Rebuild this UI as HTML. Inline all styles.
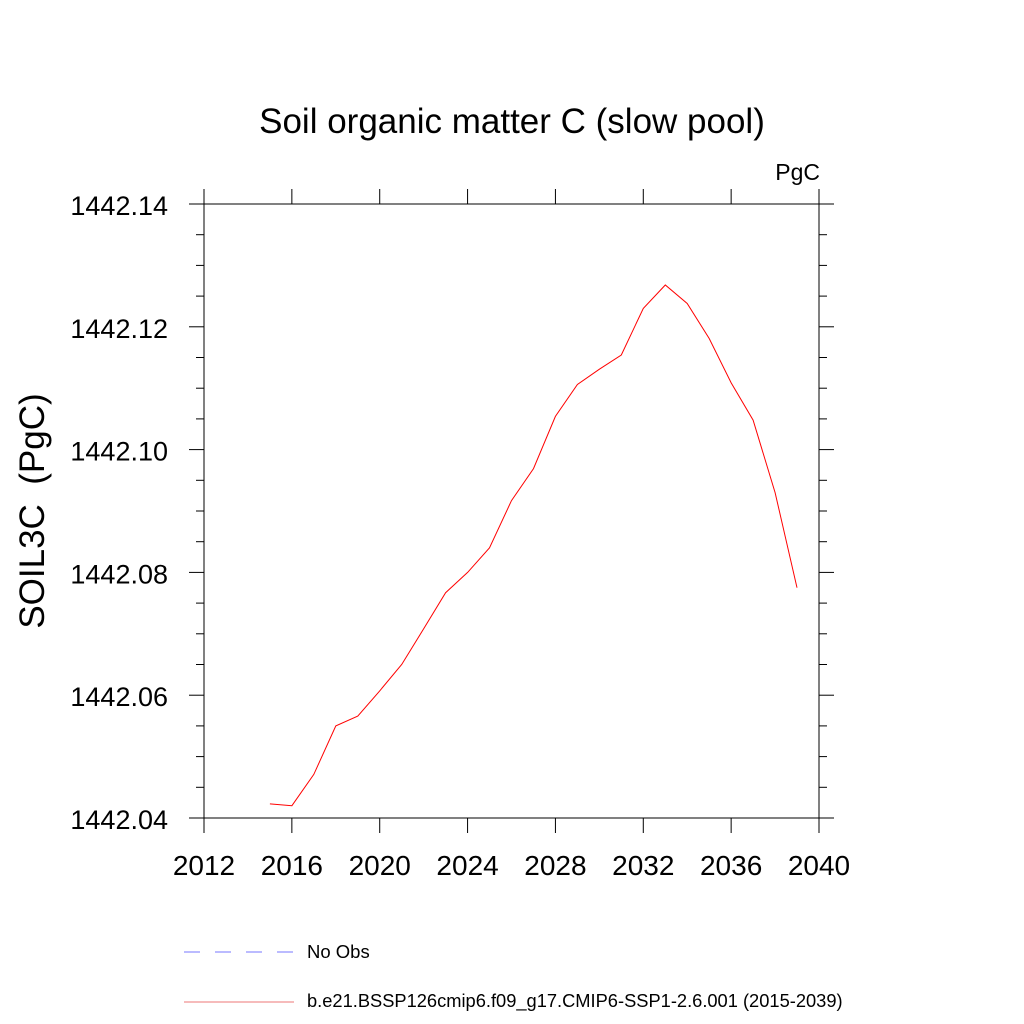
<!DOCTYPE html>
<html><head><meta charset="utf-8"><style>
html,body{margin:0;padding:0;background:#fff;}
svg{display:block;font-family:"Liberation Sans",sans-serif;}
</style></head><body>
<svg id="chart" width="1024" height="1024" viewBox="0 0 1024 1024" xmlns="http://www.w3.org/2000/svg">
<text x="512" y="133" font-size="35" text-anchor="middle">Soil organic matter C (slow pool)</text>
<text x="820" y="180" font-size="23" text-anchor="end">PgC</text>
<text transform="translate(44,511) rotate(-90)" font-size="35" text-anchor="middle">SOIL3C&#160; (PgC)</text>
<g id="axes"></g>
<g id="series"></g>
<g>
<line x1="184" y1="952" x2="294" y2="952" stroke="#7777ff" stroke-width="1" stroke-dasharray="16,15"/>
<text x="307" y="958" font-size="18.5">No Obs</text>
<line x1="184" y1="1002" x2="294" y2="1002" stroke="#ee7777" stroke-width="1"/>
<text x="307" y="1007" font-size="18.3">b.e21.BSSP126cmip6.f09_g17.CMIP6-SSP1-2.6.001 (2015-2039)</text>
</g>
</svg>
<script>
const years = [2015,2016,2017,2018,2019,2020,2021,2022,2023,2024,2025,2026,2027,2028,2029,2030,2031,2032,2033,2034,2035,2036,2037,2038,2039];
const values = [1442.0423,1442.0420,1442.0471,1442.0550,1442.0566,1442.0607,1442.0650,1442.0708,1442.0767,1442.0800,1442.0840,1442.0917,1442.0969,1442.1054,1442.1106,1442.1131,1442.1154,1442.1230,1442.1268,1442.1238,1442.1181,1442.1109,1442.1048,1442.0930,1442.0775];
const xTicks = [2012,2016,2020,2024,2028,2032,2036,2040];
const yTicks = [1442.04,1442.06,1442.08,1442.10,1442.12,1442.14];
const yTickLabels = ["1442.04","1442.06","1442.08","1442.10","1442.12","1442.14"];

const L=204,R=819,T=204,B=818;
const xMin=2012,xMax=2040,yMin=1442.04,yMax=1442.14;
function xs(v){return L+(v-xMin)/(xMax-xMin)*(R-L);}
function ys(v){return B-(v-yMin)/(yMax-yMin)*(B-T);}
const NS="http://www.w3.org/2000/svg";
const axes=document.getElementById('axes');
function ln(x1,y1,x2,y2,name){
  const l=document.createElementNS(NS,'line');
  l.setAttribute('x1',x1);l.setAttribute('y1',y1);l.setAttribute('x2',x2);l.setAttribute('y2',y2);
  l.setAttribute('stroke','#000');l.setAttribute('stroke-width','1');
  
  
  axes.appendChild(l);
}
ln(L,T,R,T,'plot-frame-top');ln(L,B,R,B,'plot-frame-bottom');
ln(L,T,L,B,'plot-frame-left');ln(R,T,R,B,'plot-frame-right');
xTicks.forEach(t=>{
  const x=xs(t);
  ln(x,B,x,B+15,'x-tick');ln(x,T,x,T-15,'x-tick-top');
  const tx=document.createElementNS(NS,'text');
  tx.setAttribute('x',x);tx.setAttribute('y',875);tx.setAttribute('font-size','28');tx.setAttribute('text-anchor','middle');
  tx.textContent=t;
  
  
  axes.appendChild(tx);
});
yTicks.forEach((t,i)=>{
  const y=ys(t);
  ln(L-15,y,L,y,'y-tick');ln(R,y,R+15,y,'y-tick-right');
  const tx=document.createElementNS(NS,'text');
  tx.setAttribute('x',168);tx.setAttribute('y',y+11);tx.setAttribute('font-size','27');tx.setAttribute('text-anchor','end');
  tx.textContent=yTickLabels[i];
  
  
  axes.appendChild(tx);
  if(i<yTicks.length-1){
    for(let k=1;k<4;k++){
      const ym=ys(t+k*(yTicks[1]-yTicks[0])/4);
      ln(L-8,ym,L,ym,'y-minor-tick');ln(R,ym,R+8,ym,'y-minor-tick-right');
    }
  }
});
const p=document.createElementNS(NS,'polyline');
p.setAttribute('points',years.map((yr,i)=>xs(yr).toFixed(1)+','+ys(values[i]).toFixed(1)).join(' '));
p.setAttribute('fill','none');p.setAttribute('stroke','#ff0000');p.setAttribute('stroke-width','1');


document.getElementById('series').appendChild(p);
</script>
</body></html>
